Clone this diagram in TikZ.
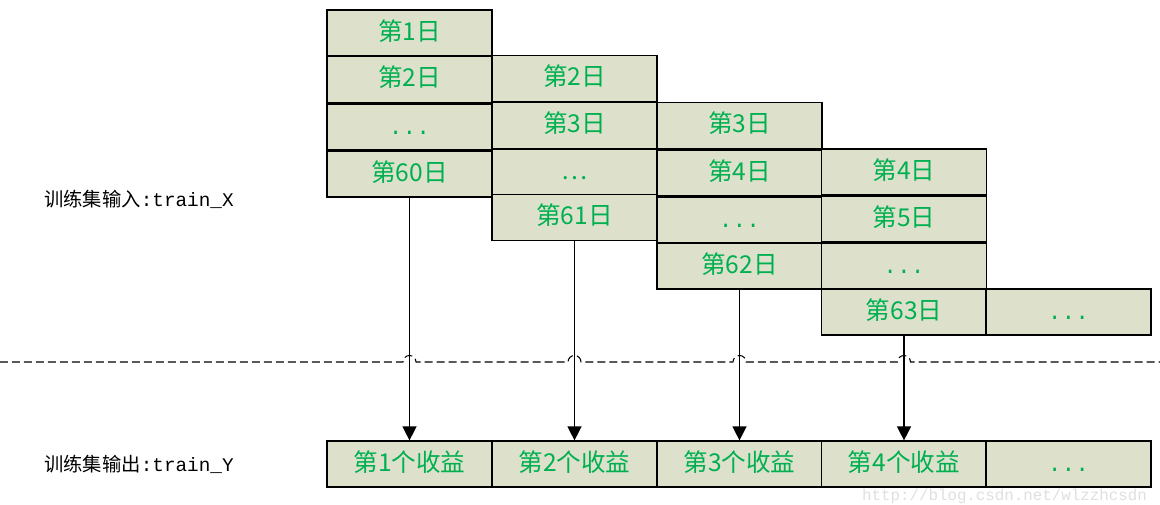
\documentclass[tikz,border=0pt]{standalone}
\usepackage{fontspec}
\setmonofont{Liberation Mono}
\newfontfamily\cjk{Noto Sans CJK SC}
\usetikzlibrary{positioning,arrows.meta,calc}

\definecolor{cellbg}{RGB}{221,225,204}
\definecolor{daygreen}{RGB}{0,176,80}

\begin{document}
\begin{tikzpicture}[
    x=0.02cm, y=-0.02cm,
    cell/.style={rectangle, draw, line width=0.7pt, fill=cellbg, text=daygreen, minimum width=3.3cm, minimum height=0.92cm, inner sep=0pt, text height=10pt, text depth=2pt, font=\cjk\fontsize{14}{14}\selectfont},
    dots/.style={cell, font=\ttfamily\fontsize{13}{13}\selectfont},
    arrow/.style={-{Triangle[width=8pt,length=8pt]}, line width=0.8pt},
    setlabel/.style={anchor=west, font=\fontsize{11}{11}\selectfont}
]
\useasboundingbox (0,0) rectangle (1160,504);

% Input windows, column 1
\node[cell] (a1) at (409.5,33) {第1日};
\node[cell] (a2) at (409.5,79.5) {第2日};
\node[dots] (a3) at (409.5,127) {...};
\node[cell] (a4) at (409.5,174) {第60日};

% column 2
\node[cell] (b1) at (574.5,78.5) {第2日};
\node[cell] (b2) at (574.5,125.5) {第3日};
\node[cell] (b3) at (574.5,172) {…};
\node[cell] (b4) at (574.5,217.5) {第61日};

% column 3
\node[cell] (c1) at (739.5,125.5) {第3日};
\node[cell] (c2) at (739.5,173) {第4日};
\node[dots] (c3) at (739.5,220) {...};
\node[cell] (c4) at (739.5,266) {第62日};

% column 4
\node[cell] (d1) at (904,172) {第4日};
\node[cell] (d2) at (904,219) {第5日};
\node[dots] (d3) at (904,266.5) {...};
\node[cell] (d4) at (904,312) {第63日};

% column 5
\node[dots] (e4) at (1068.5,312) {...};

% Outputs
\node[cell] (y1) at (409.5,464) {第1个收益};
\node[cell] (y2) at (574.5,464) {第2个收益};
\node[cell] (y3) at (739.5,464) {第3个收益};
\node[cell] (y4) at (904,464) {第4个收益};
\node[dots] (y5) at (1068.5,464) {...};

% Labels
\node[setlabel] (inlabel) at (38,199) {{\cjk 训练集输入}\texttt{:train\_X}};
\node[setlabel] (outlabel) at (38,464) {{\cjk 训练集输出}\texttt{:train\_Y}};

% Dashed separator with hops
\draw[line width=0.6pt, dash pattern=on 0.16cm off 0.08cm]
    (0,362) -- (403,362) arc[start angle=180, end angle=360, radius=6.5]
    -- (568,362) arc[start angle=180, end angle=360, radius=6.5]
    -- (733,362) arc[start angle=180, end angle=360, radius=6.5]
    -- (897.5,362) arc[start angle=180, end angle=360, radius=6.5]
    -- (1160,362);

% Arrows
\foreach \s/\t in {a4/y1, b4/y2, c4/y3, d4/y4}
    \draw[arrow] (\s.south) -- (\t.north);

% Watermark
\node[anchor=east, text=gray!25, font=\ttfamily\fontsize{9}{9}\selectfont] (mark) at (1153,496) {http://blog.csdn.net/wlzzhcsdn};

\end{tikzpicture}
\end{document}
